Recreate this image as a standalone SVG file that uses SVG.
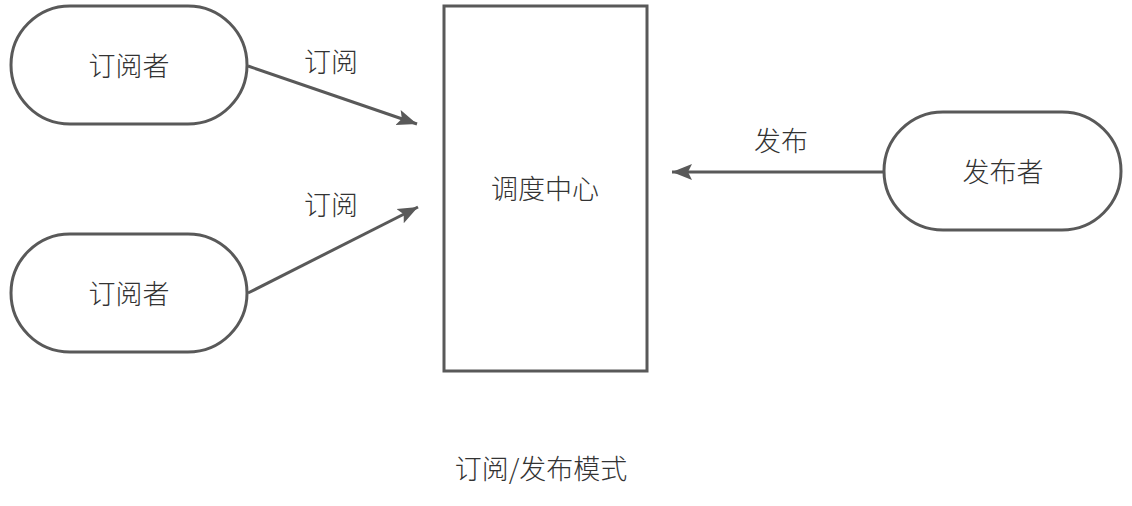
<svg xmlns="http://www.w3.org/2000/svg" width="1132" height="506" viewBox="0 0 1132 506">
<style>
.shape{fill:#fff;stroke:#595959;stroke-width:3}
.edge{fill:none;stroke:#595959;stroke-width:3}
text{font-family:"Noto Sans CJK SC","Noto Sans",sans-serif;font-size:27px;font-weight:300;fill:#333;text-anchor:middle;dominant-baseline:central}
</style>
<defs>
<marker id="arr" markerUnits="userSpaceOnUse" markerWidth="22" markerHeight="22" viewBox="0 0 22 22" refX="20" refY="11" orient="auto">
<path d="M0,3 L20,11 L0,19 L4,11 Z" fill="#595959"/>
</marker>
</defs>
<rect width="1132" height="506" fill="#fff"/>
<g id="connectors">
<line class="edge" x1="248" y1="66" x2="417" y2="124" marker-end="url(#arr)"/>
<line class="edge" x1="248" y1="293" x2="418" y2="207" marker-end="url(#arr)"/>
<line class="edge" x1="884" y1="172" x2="672" y2="172" marker-end="url(#arr)"/>
<text x="331" y="60">订阅</text>
<text x="331" y="203">订阅</text>
<text x="781" y="139">发布</text>
</g>
<g id="sub1">
<rect class="shape" x="11" y="6" width="236" height="118" rx="59"/>
<text x="129" y="64">订阅者</text>
</g>
<g id="sub2">
<rect class="shape" x="11" y="234" width="236" height="118" rx="59"/>
<text x="129" y="292">订阅者</text>
</g>
<g id="center">
<rect class="shape" x="444" y="6" width="203" height="365"/>
<text x="545" y="187">调度中心</text>
</g>
<g id="pub">
<rect class="shape" x="884" y="112" width="237" height="118" rx="59"/>
<text x="1003" y="170">发布者</text>
</g>
<g id="title">
<text x="541" y="467">订阅/发布模式</text>
</g>
</svg>
